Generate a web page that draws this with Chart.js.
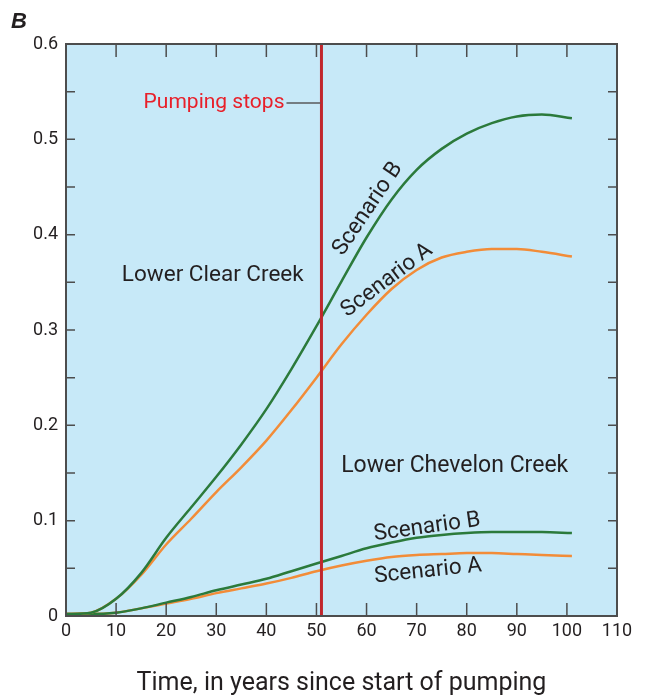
<!DOCTYPE html>
<html>
<head>
<meta charset="utf-8">
<script src="https://cdn.jsdelivr.net/npm/chart.js@4.4.1/dist/chart.umd.min.js"></script>
<style>
  html, body { margin: 0; padding: 0; background: #fff; }
  #wrap { width: 649px; height: 696px; position: relative; }
</style>
</head>
<body>
<div id="wrap"><canvas id="chart"></canvas></div>
<script>
// years since start of pumping
const years = [0, 5, 10, 15, 20, 25, 30, 35, 40, 45, 50, 55, 60, 65, 70, 75, 80, 85, 90, 95, 101];

// Lower Clear Creek
const clearB = [0.002, 0.0035, 0.018, 0.045, 0.082, 0.114, 0.146, 0.180, 0.217, 0.259, 0.304, 0.351, 0.397, 0.437, 0.468, 0.490, 0.506, 0.517, 0.524, 0.526, 0.522];
const clearA = [0.002, 0.0035, 0.018, 0.043, 0.075, 0.102, 0.130, 0.156, 0.184, 0.216, 0.250, 0.285, 0.316, 0.343, 0.363, 0.376, 0.382, 0.385, 0.385, 0.382, 0.377];

// Lower Chevelon Creek
const chevB = [0.002, 0.002, 0.0035, 0.008, 0.014, 0.020, 0.027, 0.033, 0.039, 0.047, 0.055, 0.063, 0.071, 0.077, 0.082, 0.085, 0.087, 0.088, 0.088, 0.088, 0.087];
const chevA = [0.002, 0.002, 0.0035, 0.008, 0.013, 0.018, 0.024, 0.029, 0.034, 0.040, 0.047, 0.053, 0.058, 0.062, 0.064, 0.065, 0.066, 0.066, 0.065, 0.064, 0.063];

const pumpingStops = 51;

const xTicks = [0, 10, 20, 30, 40, 50, 60, 70, 80, 90, 100, 110];
const yTicks = [0, 0.1, 0.2, 0.3, 0.4, 0.5, 0.6];

const GREEN = "#2b7a3b";
const ORANGE = "#f28c38";
const RED = "#c1272d";
const AXIS = "#4d4d4d";
const TEXT = "#231f20";
const FONT = "'Roboto', sans-serif";

function toPoints(values) {
  return years.map((t, i) => ({ x: t, y: values[i] }));
}

// background, frame, inward ticks and text labels
const decorations = {
  id: "decorations",
  beforeDraw(chart) {
    const { ctx, chartArea: a } = chart;
    ctx.save();
    ctx.fillStyle = "#c7e9f8";
    ctx.fillRect(a.left, a.top, a.right - a.left, a.bottom - a.top);
    ctx.restore();
  },
  afterDraw(chart) {
    const { ctx, chartArea: a, scales } = chart;
    const x = scales.x, y = scales.y;
    ctx.save();
    ctx.strokeStyle = AXIS;
    ctx.lineWidth = 1.5;
    // inward ticks
    ctx.beginPath();
    for (let t = 10; t < 110; t += 10) {
      const px = x.getPixelForValue(t);
      ctx.moveTo(px, a.bottom); ctx.lineTo(px, a.bottom - 13);
      ctx.moveTo(px, a.top); ctx.lineTo(px, a.top + 13);
    }
    for (let i = 1; i < 12; i++) {
      const py = y.getPixelForValue(i * 0.05);
      ctx.moveTo(a.left, py); ctx.lineTo(a.left + 9, py);
      ctx.moveTo(a.right, py); ctx.lineTo(a.right - 9, py);
    }
    ctx.stroke();
    ctx.lineWidth = 2;
    ctx.strokeRect(a.left, a.top, a.right - a.left, a.bottom - a.top);

    // panel letter
    ctx.fillStyle = TEXT;
    ctx.font = "italic bold 22px 'Liberation Sans', sans-serif";
    ctx.textAlign = "left";
    ctx.textBaseline = "alphabetic";
    ctx.fillText("B", 11, 28);

    const label = (text, t, v, angle, color, size) => {
      ctx.save();
      ctx.translate(x.getPixelForValue(t), y.getPixelForValue(v));
      ctx.rotate(angle * Math.PI / 180);
      ctx.fillStyle = color;
      ctx.font = size + "px " + FONT;
      ctx.textAlign = "center";
      ctx.textBaseline = "middle";
      ctx.fillText(text, 0, 0);
      ctx.restore();
    };
    label("Lower Clear Creek", 29.3, 0.357, 0, TEXT, 22.5);
    label("Lower Chevelon Creek", 77.6, 0.157, 0, TEXT, 23);
    label("Scenario B", 60.3, 0.427, -56, TEXT, 22.5);
    label("Scenario A", 64.1, 0.352, -37, TEXT, 22.5);
    label("Scenario B", 72.1, 0.093, -8, TEXT, 22.5);
    label("Scenario A", 72.3, 0.047, -6, TEXT, 22.5);

    // "Pumping stops" with leader line
    const py = y.getPixelForValue(0.538);
    const lx = x.getPixelForValue(pumpingStops);
    ctx.font = "21px " + FONT;
    ctx.fillStyle = "#e8202a";
    ctx.textAlign = "right";
    ctx.textBaseline = "middle";
    ctx.fillText("Pumping stops", lx - 37, py);
    ctx.strokeStyle = "#58595b";
    ctx.lineWidth = 1.5;
    ctx.beginPath();
    ctx.moveTo(lx - 35, py);
    ctx.lineTo(lx - 1, py);
    ctx.stroke();
    ctx.restore();
  }
};

const ctx = document.getElementById("chart").getContext("2d");
new Chart(ctx, {
  type: "line",
  data: {
    datasets: [
      {
        data: [{ x: pumpingStops, y: 0 }, { x: pumpingStops, y: 0.6 }],
        borderColor: RED, borderWidth: 3, pointRadius: 0, order: 0
      },
      { data: toPoints(clearB), borderColor: GREEN, borderWidth: 2.5, pointRadius: 0, cubicInterpolationMode: "monotone", order: 1 },
      { data: toPoints(clearA), borderColor: ORANGE, borderWidth: 2.5, pointRadius: 0, cubicInterpolationMode: "monotone", order: 1 },
      { data: toPoints(chevB), borderColor: GREEN, borderWidth: 2.5, pointRadius: 0, cubicInterpolationMode: "monotone", order: 1 },
      { data: toPoints(chevA), borderColor: ORANGE, borderWidth: 2.5, pointRadius: 0, cubicInterpolationMode: "monotone", order: 1 }
    ]
  },
  options: {
    responsive: true,
    maintainAspectRatio: false,
    animation: false,
    events: [],
    layout: { padding: { top: 44, right: 32, left: 0, bottom: 0 } },
    plugins: { legend: { display: false }, tooltip: { enabled: false } },
    scales: {
      x: {
        type: "linear", min: 0, max: 110,
        afterBuildTicks: (s) => { s.ticks = xTicks.map((v) => ({ value: v })); },
        afterFit: (s) => { s.height = 80; },
        grid: { display: false, drawTicks: false },
        border: { display: false },
        ticks: { color: TEXT, padding: 5, font: { family: FONT, size: 18 }, maxRotation: 0, autoSkip: false },
        title: {
          display: true, text: "Time, in years since start of pumping", color: TEXT,
          font: { family: FONT, size: 25, lineHeight: 1 }, padding: { top: 0, bottom: 0 }
        }
      },
      y: {
        type: "linear", min: 0, max: 0.6,
        afterBuildTicks: (s) => { s.ticks = yTicks.map((v) => ({ value: v })); },
        afterFit: (s) => { s.width = 66; },
        grid: { display: false, drawTicks: false },
        border: { display: false },
        ticks: {
          color: TEXT, padding: 8, font: { family: FONT, size: 18 },
          callback: (v) => (v === 0 ? "0" : v.toFixed(1))
        }
      }
    }
  },
  plugins: [decorations]
});
</script>
</body>
</html>
